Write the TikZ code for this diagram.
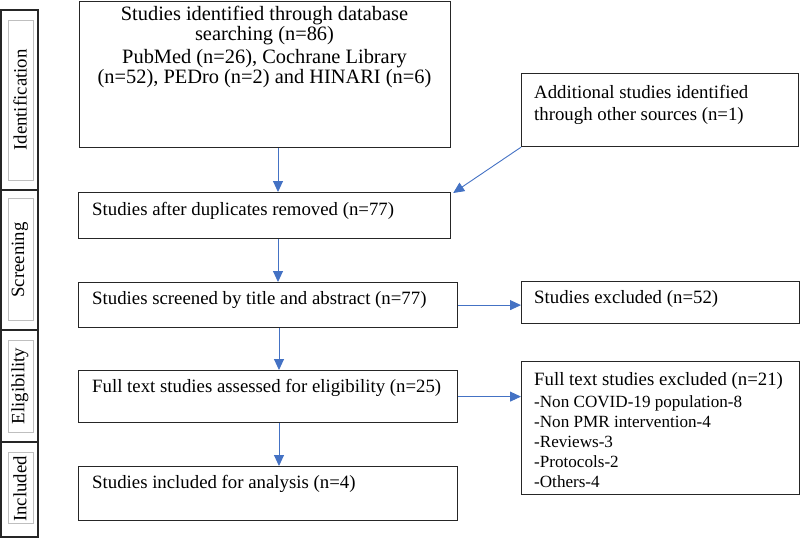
\documentclass[tikz,border=0pt]{standalone}
\usepackage{fontspec}
\setmainfont{Liberation Serif}
\usetikzlibrary{arrows.meta,calc}
\definecolor{arrblue}{HTML}{4472C4}
\begin{document}
\begin{tikzpicture}[x=1pt,y=-1pt,
  box/.style={draw=black!85,line width=1.2pt,rectangle,inner sep=0pt,anchor=north west},
  side/.style={draw=black!85,line width=1.2pt},
  inner/.style={draw=black!25,line width=0.6pt},
  txt/.style={font=\fontsize{18.8}{21}\selectfont,inner sep=0pt,anchor=west},
  sidetxt/.style={font=\fontsize{18.8}{21}\selectfont,inner sep=0pt,rotate=90},
  arr/.style={draw=arrblue,line width=0.9pt,-{Triangle[length=11pt,width=10pt]}}]
\useasboundingbox (0,0) rectangle (800,539);
% sidebar
\draw[side] (1,10) rectangle (38,537);
\draw[side] (1,190) -- (38,190);
\draw[side] (1,330) -- (38,330);
\draw[side] (1,442) -- (38,442);
\draw[inner] (8,20) rectangle (33,180);
\draw[inner] (8,198) rectangle (33,320);
\draw[inner] (8,340) rectangle (33,432);
\draw[inner] (8,452) rectangle (33,523);
\node[sidetxt] (sid) at (20,100) {Identification};
\node[sidetxt] (sscr) at (20,260) {Screening};
\node[sidetxt] (selg) at (20,386) {Eligibility};
\node[sidetxt] (sinc) at (20,489) {Included};
% main boxes
\node[box,minimum width=371pt,minimum height=146pt] (b1) at (79,1) {};
\node[box,minimum width=372pt,minimum height=46pt] (b2) at (78,192) {};
\node[box,minimum width=379pt,minimum height=45pt] (b3) at (78,282) {};
\node[box,minimum width=379pt,minimum height=52pt] (b4) at (78,370) {};
\node[box,minimum width=379pt,minimum height=54pt] (b5) at (78,466) {};
\node[box,minimum width=277pt,minimum height=73pt] (add) at (521,73) {};
\node[box,minimum width=278pt,minimum height=42pt] (ex1) at (521,281) {};
\node[box,minimum width=278pt,minimum height=133pt] (ex2) at (521,361) {};
% texts
\node[font=\fontsize{20.4}{18.5}\selectfont,inner sep=0pt,align=center,anchor=north] (t1) at (264.5,6)
  {Studies identified through database\\searching (n=86)\\[4pt]PubMed (n=26), Cochrane Library\\(n=52), PEDro (n=2) and HINARI (n=6)};
\node[txt] (t2) at (92,211) {Studies after duplicates removed (n=77)};
\node[txt] (t3) at (92,300) {Studies screened by title and abstract (n=77)};
\node[txt] (t4) at (92,388) {Full text studies assessed for eligibility (n=25)};
\node[txt] (t5) at (92,484) {Studies included for analysis (n=4)};
\node[txt,align=left,anchor=north west,font=\fontsize{18.8}{22}\selectfont] (ta) at (534,85) {Additional studies identified\\through other sources (n=1)};
\node[txt] (te1) at (534,299) {Studies excluded (n=52)};
\node[inner sep=0pt,align=left,anchor=north west,font=\fontsize{17.1}{20}\selectfont] (te2) at (534,372)
  {{\fontsize{18.8}{20}\selectfont Full text studies excluded (n=21)}\\[2pt]-Non COVID-19 population-8\\-Non PMR intervention-4\\-Reviews-3\\-Protocols-2\\-Others-4};
% arrows
\coordinate (c1) at (278,0);
\coordinate (c2) at (279,0);
\draw[arr] (b1.south -| c1) -- (b2.north -| c1);
\draw[arr] (b2.south -| c1) -- (b3.north -| c1);
\draw[arr] (b3.south -| c2) -- (b4.north -| c2);
\draw[arr] (b4.south -| c2) -- (b5.north -| c2);
\draw[arr] (add.south west) -- ([xshift=2pt,yshift=-1pt]b2.north east);
\draw[arr] (b3.east) -- (b3.east -| ex1.west);
\draw[arr] (b4.east) -- (b4.east -| ex2.west);
\end{tikzpicture}
\end{document}
